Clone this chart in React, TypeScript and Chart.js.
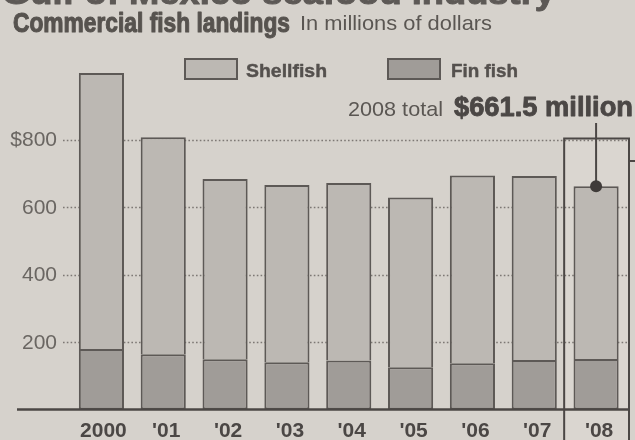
import React, { useEffect, useRef } from "react";
import { Chart, registerables } from "chart.js";

Chart.register(...registerables);

const categories = ["2000", "'01", "'02", "'03", "'04", "'05", "'06", "'07", "'08"];
const finFish = [179, 164, 149, 140, 145, 125, 137, 147, 150];
const shellfish = [818, 643, 534, 525, 526, 503, 556, 545, 511.5];
const yTicks = [200, 400, 600, 800];
const yTickLabels = ["200", "400", "600", "$800"];
const highlightIndex = 8;
const highlightTotal = 661.5;

const BG = "#d6d2cc";
const BOX_BG = "#dad6d0";
const SHELL = "#bcb8b3";
const FIN = "#a09c98";
const EDGE = "#5d5956";
const DARK = "#4b4745";
const TEXT = "#5a5652";
const TICK = "#6a6662";

function fitText(ctx: CanvasRenderingContext2D, text: string, x: number, y: number, width: number, font: string, color: string, stroke = 0) {
  ctx.save();
  ctx.font = font;
  const w = ctx.measureText(text).width;
  ctx.translate(x, y);
  ctx.scale(width / w, 1);
  ctx.fillStyle = color;
  ctx.textBaseline = "alphabetic";
  ctx.textAlign = "left";
  ctx.fillText(text, 0, 0);
  if (stroke > 0) {
    ctx.strokeStyle = color;
    ctx.lineWidth = stroke;
    ctx.lineJoin = "round";
    ctx.strokeText(text, 0, 0);
  }
  ctx.restore();
}

const decor = {
  id: "decor",
  beforeDraw(chart: any) {
    const ctx = chart.ctx as CanvasRenderingContext2D;
    ctx.save();
    ctx.fillStyle = BG;
    ctx.fillRect(0, 0, chart.width, chart.height);
    ctx.restore();
  },
  beforeDatasetsDraw(chart: any) {
    const ctx = chart.ctx as CanvasRenderingContext2D;
    const xs = chart.scales.x;
    const ys = chart.scales.y;
    const cx = xs.getPixelForValue(highlightIndex);
    const half = (xs.getPixelForValue(1) - xs.getPixelForValue(0)) / 2;
    const boxL = cx - half - 1;
    const boxR = cx + half + 2;
    const boxT = ys.getPixelForValue(800) - 1;
    ctx.save();
    ctx.fillStyle = BOX_BG;
    ctx.fillRect(boxL, boxT, boxR - boxL, chart.height - boxT + 2);
    // grid
    ctx.strokeStyle = "#7d7874";
    ctx.lineWidth = 1.6;
    ctx.setLineDash([1.6, 2.2]);
    yTicks.forEach((v) => {
      const y = Math.round(ys.getPixelForValue(v)) + 0.5;
      ctx.beginPath();
      ctx.moveTo(63, y);
      ctx.lineTo(boxR, y);
      ctx.stroke();
    });
    ctx.setLineDash([]);
    // box outline
    ctx.strokeStyle = DARK;
    ctx.lineWidth = 2;
    ctx.beginPath();
    ctx.moveTo(boxL, chart.height + 2);
    ctx.lineTo(boxL, boxT);
    ctx.lineTo(boxR, boxT);
    ctx.lineTo(boxR, chart.height + 2);
    ctx.stroke();
    ctx.beginPath();
    ctx.moveTo(boxR, 161);
    ctx.lineTo(chart.width, 161);
    ctx.stroke();
    // y labels
    ctx.fillStyle = TICK;
    ctx.font = "21px 'Liberation Sans', Arial, sans-serif";
    ctx.textAlign = "right";
    ctx.textBaseline = "middle";
    yTicks.forEach((v, i) => {
      ctx.fillText(yTickLabels[i], 57, ys.getPixelForValue(v) + 1);
    });
    ctx.restore();
  },
  afterDatasetsDraw(chart: any) {
    const ctx = chart.ctx as CanvasRenderingContext2D;
    const xs = chart.scales.x;
    const ys = chart.scales.y;
    const half = (xs.getPixelForValue(1) - xs.getPixelForValue(0)) / 2;
    const boxR = xs.getPixelForValue(highlightIndex) + half + 2;
    ctx.save();
    // baseline
    const y0 = ys.getPixelForValue(0);
    ctx.strokeStyle = DARK;
    ctx.lineWidth = 2.5;
    ctx.beginPath();
    ctx.moveTo(17, y0);
    ctx.lineTo(boxR, y0);
    ctx.stroke();
    // x labels
    ctx.fillStyle = DARK;
    ctx.font = "bold 21px 'Liberation Sans', Arial, sans-serif";
    ctx.textAlign = "center";
    ctx.textBaseline = "alphabetic";
    categories.forEach((c, i) => {
      ctx.fillText(c, xs.getPixelForValue(i) + (i === 0 ? 2 : 3), 437);
    });
    // annotation
    const px = xs.getPixelForValue(highlightIndex);
    const py = ys.getPixelForValue(highlightTotal);
    ctx.strokeStyle = DARK;
    ctx.lineWidth = 2;
    ctx.beginPath();
    ctx.moveTo(px, 123);
    ctx.lineTo(px, py);
    ctx.stroke();
    ctx.fillStyle = "#3f3b39";
    ctx.beginPath();
    ctx.arc(px, py, 6, 0, Math.PI * 2);
    ctx.fill();
    fitText(ctx, "2008 total", 348, 116, 95, "21px 'Liberation Sans', Arial, sans-serif", TEXT);
    fitText(ctx, "$" + highlightTotal.toFixed(1) + " million", 454, 116, 179, "bold 28px 'Liberation Sans', Arial, sans-serif", DARK, 0.9);
    // titles
    fitText(ctx, "Gulf of Mexico seafood industry", 2, 3.5, 553, "bold 34px 'Liberation Sans', Arial, sans-serif", "#5d5956", 1);
    fitText(ctx, "Commercial fish landings", 13, 32, 277, "bold 28px 'Liberation Sans', Arial, sans-serif", "#57534f", 1.1);
    fitText(ctx, "In millions of dollars", 300, 30, 192, "21px 'Liberation Sans', Arial, sans-serif", TEXT);
    // legend
    const items = [
      { label: "Shellfish", color: SHELL, x: 185, tx: 246, tw: 81 },
      { label: "Fin fish", color: FIN, x: 388, tx: 451, tw: 67 },
    ];
    items.forEach((it) => {
      ctx.fillStyle = it.color;
      ctx.fillRect(it.x, 59, 52, 20);
      ctx.strokeStyle = EDGE;
      ctx.lineWidth = 2;
      ctx.strokeRect(it.x, 59, 52, 20);
      fitText(ctx, it.label, it.tx, 77, it.tw, "bold 18px 'Liberation Sans', Arial, sans-serif", "#55514e", 0.4);
    });
    ctx.restore();
  },
};

export default function App() {
  const ref = useRef<HTMLCanvasElement | null>(null);
  useEffect(() => {
    if (!ref.current) return;
    const chart = new Chart(ref.current, {
      type: "bar",
      data: {
        labels: categories,
        datasets: [
          { label: "Fin fish", data: finFish, backgroundColor: FIN, borderColor: EDGE, borderWidth: 2, borderSkipped: false },
          { label: "Shellfish", data: shellfish, backgroundColor: SHELL, borderColor: EDGE, borderWidth: 2, borderSkipped: "bottom" },
        ],
      },
      options: {
        animation: false,
        responsive: false,
        layout: { padding: { left: 70.5, right: 8, top: 72, bottom: 30.5 } },
        datasets: { bar: { barPercentage: 0.73, categoryPercentage: 1 } },
        scales: {
          x: { stacked: true, display: false, offset: true },
          y: { stacked: true, display: false, min: 0, max: 1000 },
        },
        plugins: { legend: { display: false }, tooltip: { enabled: false } },
      },
      plugins: [decor],
    } as any);
    return () => chart.destroy();
  }, []);
  return (
    <div style={{ position: "fixed", left: 0, top: 0, width: 635, height: 440, background: BG, overflow: "hidden" }}>
      <canvas ref={ref} width={635} height={440} style={{ display: "block" }} />
    </div>
  );
}
